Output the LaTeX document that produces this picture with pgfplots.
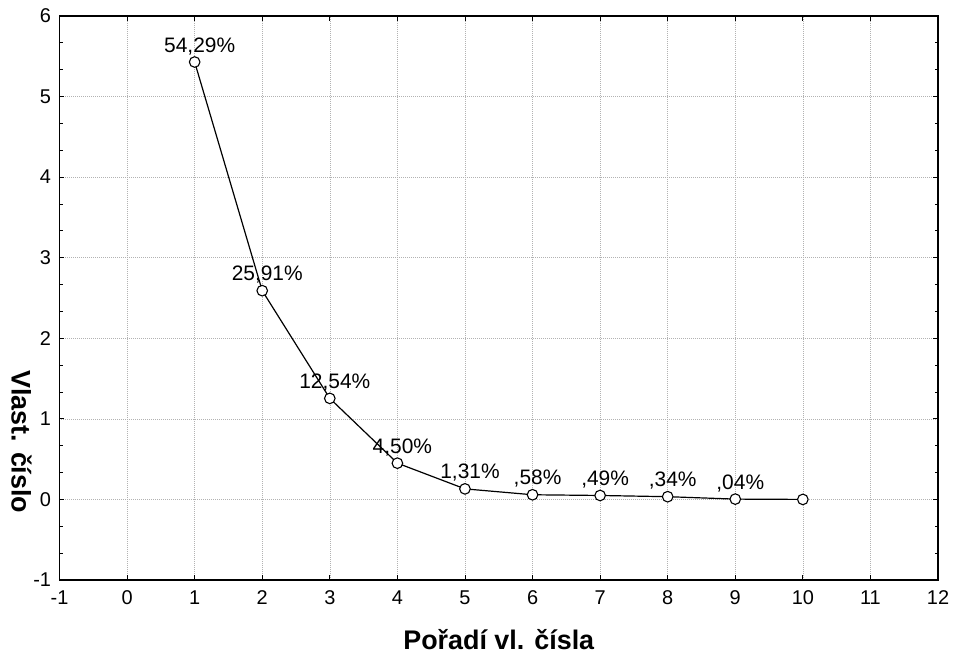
\documentclass[border=0pt]{standalone}
\usepackage{fontspec}
\setmainfont{Liberation Sans}
\usepackage{pgfplots}
\pgfplotsset{compat=1.18}
\begin{document}
\begin{tikzpicture}
\begin{axis}[name=ax, scale only axis, width=878.5bp, height=564bp,
  xmin=-1, xmax=12, ymin=-1, ymax=6,
  xtick={-1,0,...,12}, ytick={-1,0,...,6},
  minor y tick num=2,
  tick align=inside, major tick length=5bp, minor tick length=3.5bp,
  grid=major, grid style={line width=0.5bp, gray!60, dash pattern=on 1bp off 1bp},
  axis line style={line width=1.3bp},
  tick style={black, line width=0.8bp},
  /pgf/number format/assume math mode=true,
  ticklabel style={font=\fontsize{20}{23}\selectfont},
  xticklabel style={yshift=-7bp},
  yticklabel style={xshift=-5bp},
  xlabel={Pořadí vl. čísla},
  ylabel={Vlast. číslo},
  every axis x label/.style={at={(axis description cs:0.5,0)}, anchor=base, yshift=-69bp, font=\fontsize{27}{31}\selectfont\bfseries},
  every axis y label/.style={at={(axis description cs:0,0.245)}, anchor=center, xshift=-38bp, rotate=-90, font=\fontsize{27}{31}\selectfont\bfseries},
]
\addplot[black, line width=1.2bp, mark=*, mark size=5.3bp,
  mark options={fill=white, draw=black, line width=1.1bp},
  nodes near coords, point meta=explicit symbolic,
  every node near coord/.append style={anchor=base, inner sep=0pt, xshift=5bp, yshift=10bp, font=\fontsize{21}{24}\selectfont, black}]
  table[meta=lab] {
x y lab
1 5.429 54,29\%
2 2.591 25,91\%
3 1.254 12,54\%
4 0.450 4,50\%
5 0.131 1,31\%
6 0.058 ,58\%
7 0.049 ,49\%
8 0.034 ,34\%
9 0.004 ,04\%
10 0.0001 {}
};
\end{axis}
\pgfresetboundingbox
\path (ax.south west) ++(-59.5bp,-74bp) rectangle ++(955bp,654bp);
\end{tikzpicture}
\end{document}
